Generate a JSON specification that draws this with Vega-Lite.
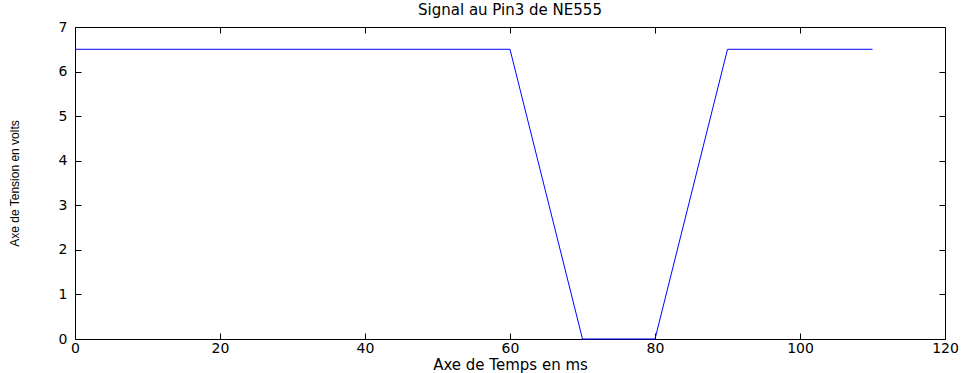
{
  "$schema": "https://vega.github.io/schema/vega-lite/v6.json",
  "width": 870,
  "height": 312,
  "autosize": {"type": "none"},
  "padding": {"left": 75, "top": 27, "right": 22, "bottom": 34},
  "background": "white",
  "title": {"text": "Signal au Pin3 de NE555", "fontSize": 15, "fontWeight": "normal", "font": "DejaVu Sans", "color": "black", "offset": 2},
  "config": {
    "view": {"stroke": "black", "strokeWidth": 1},
    "axis": {"grid": false, "domain": false, "tickColor": "black", "labelColor": "black", "titleColor": "black", "labelFont": "DejaVu Sans", "titleFont": "DejaVu Sans", "labelFontSize": 14, "titleFontSize": 15, "titleFontWeight": "normal"}
  },
  "data": {"values": [
    {"t": 0, "v": 6.5},
    {"t": 60, "v": 6.5},
    {"t": 70, "v": 0},
    {"t": 80, "v": 0},
    {"t": 90, "v": 6.5},
    {"t": 110, "v": 6.5}
  ]},
  "layer": [
    {
      "mark": {"type": "line", "color": "#0000FF", "strokeWidth": 1},
      "encoding": {
        "x": {"field": "t", "type": "quantitative", "scale": {"domain": [0, 120], "nice": false, "zero": false},
              "axis": {"orient": "bottom", "values": [0, 20, 40, 60, 80, 100, 120], "tickSize": -6, "labelPadding": 8, "title": "Axe de Temps en ms", "titlePadding": 2, "labelFlush": false}},
        "y": {"field": "v", "type": "quantitative", "scale": {"domain": [0, 7], "nice": false},
              "axis": {"orient": "left", "values": [0, 1, 2, 3, 4, 5, 6, 7], "tickSize": -6, "labelPadding": 14, "title": "Axe de Tension en volts", "titleFont": "Liberation Sans", "titleFontSize": 12, "titlePadding": 37, "labelFlush": false}}
      }
    },
    {
      "mark": {"type": "line", "strokeOpacity": 0},
      "encoding": {
        "x": {"field": "t", "type": "quantitative", "scale": {"domain": [0, 120], "nice": false, "zero": false},
              "axis": {"orient": "top", "values": [0, 20, 40, 60, 80, 100, 120], "tickSize": -6, "labels": false, "title": null}},
        "y": {"field": "v", "type": "quantitative", "scale": {"domain": [0, 7], "nice": false},
              "axis": {"orient": "right", "values": [0, 1, 2, 3, 4, 5, 6, 7], "tickSize": -6, "labels": false, "title": null}}
      }
    }
  ],
  "resolve": {"axis": {"x": "independent", "y": "independent"}}
}
